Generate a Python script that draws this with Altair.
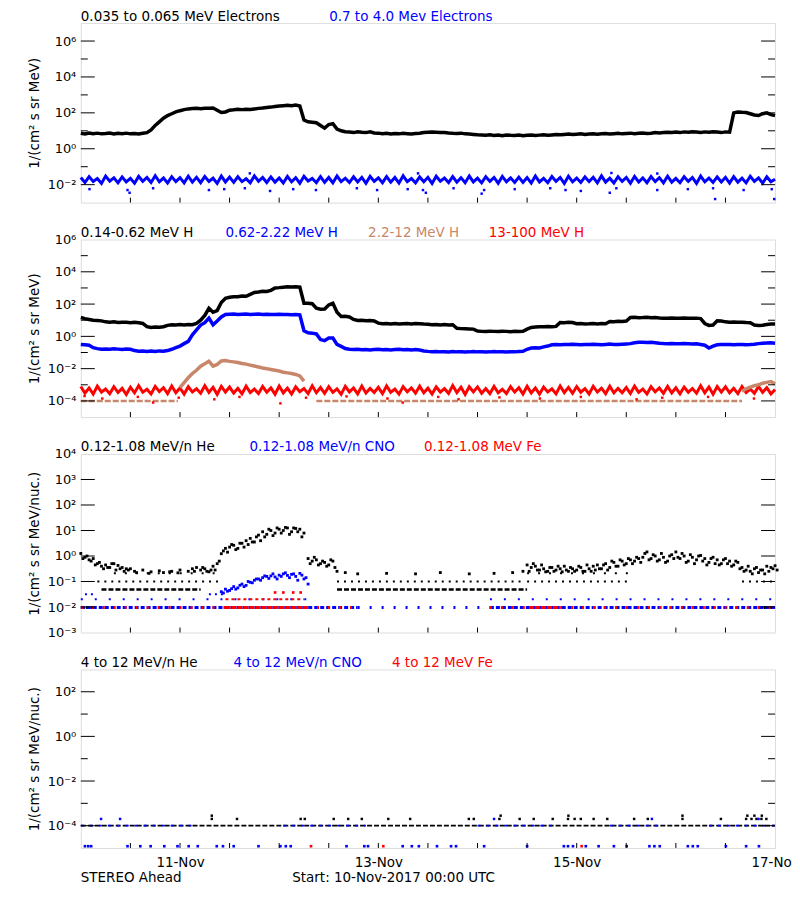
import altair as alt
import pandas as pd

FONT = "DejaVu Sans"
BLACK, BLUE, TAN, RED = "#000000", "#0000ff", "#c8866a", "#ff0000"
N = None
W = 696

# ---------------- time axis (hours since 10-Nov-2017 00:00 UTC) ----------------
HOURS = list(range(169))
X_TICK_HOURS = list(range(12, 168, 12))
X_LABEL_HOURS = [24, 72, 120, 168]
X_LABEL_TEXT = ["11-Nov", "13-Nov", "15-Nov", "17-Nov"]

# ---------------- panel 1: electrons (log10 flux, hourly) ----------------
E_LOW_LOG = [
    0.86, 0.82, 0.88, 0.84, 0.87, 0.83, 0.85, 0.88, 0.82, 0.86, 0.84, 0.87,
    0.83, 0.85, 0.82, 0.86, 0.90, 1.05, 1.30, 1.50, 1.70, 1.85, 1.95, 2.05,
    2.12, 2.18, 2.22, 2.24, 2.25, 2.23, 2.26, 2.25, 2.27, 2.15, 2.02, 2.05,
    2.15, 2.17, 2.20, 2.18, 2.20, 2.19, 2.22, 2.25, 2.27, 2.30, 2.32, 2.35,
    2.38, 2.40, 2.42, 2.40, 2.43, 2.38, 1.60, 1.50, 1.48, 1.45, 1.30, 1.15,
    1.35, 1.40, 1.10, 1.00, 0.95, 0.93, 0.90, 0.95, 0.92, 0.90, 0.94, 0.88,
    0.87, 0.84, 0.86, 0.82, 0.85, 0.83, 0.86, 0.84, 0.82, 0.85, 0.87, 0.90,
    0.92, 0.93, 0.92, 0.90, 0.91, 0.88, 0.86, 0.85, 0.87, 0.83, 0.82, 0.80,
    0.78, 0.77, 0.75, 0.78, 0.74, 0.76, 0.73, 0.77, 0.75, 0.74, 0.76, 0.72,
    0.75, 0.77, 0.74, 0.76, 0.78, 0.75, 0.77, 0.79, 0.78, 0.80, 0.82, 0.79,
    0.81, 0.83, 0.80, 0.82, 0.84, 0.81, 0.83, 0.85, 0.82, 0.84, 0.86, 0.83,
    0.85, 0.87, 0.84, 0.86, 0.88, 0.85, 0.87, 0.90, 0.88, 0.90, 0.92, 0.91,
    0.93, 0.90, 0.94, 0.92, 0.95, 0.93, 0.91, 0.94, 0.92, 0.95, 0.93, 0.90,
    0.94, 0.92, 2.00, 2.05, 2.03, 2.02, 1.95, 1.88, 1.85, 1.95, 2.00, 1.90,
    1.85]
E_HIGH_LOG = [
    -1.60, -1.88, -1.55, -1.82, -1.66, -1.93, -1.52, -1.80, -1.62, -1.90, -1.57, -1.85,
    -1.65, -1.92, -1.54, -1.81, -1.60, -1.88, -1.50, -1.84, -1.63, -1.91, -1.56, -1.83,
    -1.61, -1.90, -1.53, -1.86, -1.59, -1.89, -1.55, -1.82, -1.64, -1.93, -1.52, -1.85,
    -1.58, -1.87, -1.56, -1.83, -1.67, -1.90, -1.51, -1.81, -1.60, -1.88, -1.57, -1.86,
    -1.63, -1.91, -1.54, -1.84, -1.61, -1.92, -1.53, -1.80, -1.65, -1.89, -1.55, -1.87,
    -1.60, -1.90, -1.52, -1.83, -1.64, -1.88, -1.56, -1.85, -1.59, -1.92, -1.54, -1.82,
    -1.62, -1.89, -1.55, -1.86, -1.60, -1.91, -1.51, -1.83, -1.66, -1.90, -1.57, -1.84,
    -1.59, -1.93, -1.53, -1.81, -1.63, -1.88, -1.55, -1.86, -1.61, -1.89, -1.52, -1.85,
    -1.64, -1.90, -1.56, -1.82, -1.60, -1.92, -1.54, -1.84, -1.62, -1.88, -1.58, -1.87,
    -1.61, -1.91, -1.52, -1.85, -1.65, -1.89, -1.55, -1.82, -1.60, -1.93, -1.53, -1.84,
    -1.63, -1.88, -1.57, -1.83, -1.59, -1.90, -1.51, -1.86, -1.64, -1.91, -1.56, -1.82,
    -1.60, -1.92, -1.54, -1.85, -1.62, -1.89, -1.55, -1.83, -1.61, -1.90, -1.53, -1.86,
    -1.65, -1.89, -1.56, -1.82, -1.60, -1.93, -1.52, -1.84, -1.63, -1.88, -1.57, -1.85,
    -1.59, -1.91, -1.55, -1.86, -1.64, -1.90, -1.53, -1.82, -1.62, -1.92, -1.56, -1.84,
    -1.70]
E_HIGH_OUT_HOURS = [2.1, 11.3, 17.5, 31.0, 34.7, 39.7, 45.8, 51.4, 56.9, 66.8, 71.7, 79.1,
                    82.8, 90.2, 97.6, 105.0, 113.6, 117.3, 121.0, 129.6, 139.5, 146.9,
                    153.0, 160.4, 167.2, 11.8, 83.5, 97.0, 128.0, 153.5, 167.8,
                    40.9, 81.6, 128.4, 139.5]
E_HIGH_OUT_LOG = [-2.25, -2.3, -2.2, -2.3, -2.25, -2.2, -2.35, -2.25, -2.3, -2.2, -2.3, -2.25,
                  -2.3, -2.2, -2.3, -2.25, -2.2, -2.3, -2.35, -2.2, -2.3, -2.25,
                  -2.2, -2.3, -2.25, -2.45, -2.45, -2.5, -2.45, -2.8, -2.8,
                  -1.37, -1.37, -1.35, -1.38]

# ---------------- panel 2: protons ----------------
H_LOW_LOG = [
    1.17, 1.10, 1.05, 1.00, 0.98, 0.96, 0.90, 0.88, 0.90, 0.86, 0.88, 0.87,
    0.85, 0.88, 0.84, 0.80, 0.60, 0.55, 0.58, 0.56, 0.60, 0.68, 0.72, 0.70,
    0.73, 0.71, 0.74, 0.72, 0.80, 1.00, 1.30, 1.74, 1.50, 1.60, 2.10, 2.36,
    2.42, 2.46, 2.45, 2.50, 2.48, 2.60, 2.72, 2.75, 2.80, 2.78, 2.85, 3.00,
    3.02, 3.05, 3.07, 3.06, 3.08, 3.05, 2.05, 2.05, 2.02, 1.75, 1.68, 1.70,
    1.95, 2.05, 1.50, 1.23, 1.25, 1.20, 1.05, 0.98, 1.00, 0.97, 0.98, 0.95,
    0.82, 0.78, 0.80, 0.77, 0.79, 0.76, 0.78, 0.80, 0.77, 0.79, 0.78, 0.76,
    0.75, 0.72, 0.74, 0.71, 0.73, 0.70, 0.72, 0.50, 0.48, 0.47, 0.46, 0.45,
    0.33, 0.31, 0.30, 0.32, 0.31, 0.30, 0.32, 0.31, 0.29, 0.31, 0.30, 0.32,
    0.45, 0.55, 0.58, 0.60, 0.59, 0.61, 0.60, 0.62, 0.86, 0.85, 0.87, 0.86,
    0.78, 0.79, 0.77, 0.78, 0.80, 0.77, 0.79, 0.78, 0.92, 0.91, 0.93, 0.92,
    0.95, 1.17, 1.18, 1.16, 1.17, 1.19, 1.15, 1.17, 1.14, 1.13, 1.12, 1.14,
    1.13, 1.12, 1.14, 1.13, 1.12, 1.13, 1.10, 0.80, 0.68, 0.70, 0.96, 0.95,
    0.90, 0.88, 0.89, 0.87, 0.88, 0.86, 0.85, 0.70, 0.68, 0.69, 0.74, 0.76,
    0.76]
H_MID_LOG = [
    -0.50, -0.52, -0.55, -0.70, -0.76, -0.80, -0.78, -0.80, -0.77, -0.79, -0.81, -0.78,
    -0.80, -0.88, -0.92, -0.90, -0.93, -0.91, -0.94, -0.90, -0.92, -0.88, -0.80, -0.70,
    -0.60, -0.45, -0.31, 0.10, 0.40, 0.70, 0.85, 1.13, 0.72, 0.95, 1.20, 1.35,
    1.37, 1.38, 1.36, 1.37, 1.38, 1.36, 1.37, 1.38, 1.36, 1.37, 1.35, 1.36,
    1.37, 1.35, 1.36, 1.34, 1.35, 1.33, 0.35, 0.22, 0.20, 0.15, -0.20, -0.27,
    -0.10, -0.10, -0.50, -0.62, -0.75, -0.80, -0.82, -0.80, -0.83, -0.81, -0.84, -0.82,
    -0.80, -0.83, -0.81, -0.84, -0.82, -0.80, -0.83, -0.81, -0.84, -0.82, -0.85, -0.90,
    -0.93, -0.95, -0.94, -0.96, -0.95, -0.97, -0.94, -0.96, -0.95, -0.97, -0.96, -0.94,
    -0.96, -0.95, -0.97, -0.96, -0.94, -0.96, -0.95, -0.97, -0.95, -0.96, -0.94, -0.93,
    -0.80, -0.72, -0.70, -0.72, -0.65, -0.60, -0.52, -0.50, -0.52, -0.50, -0.51, -0.49,
    -0.50, -0.52, -0.50, -0.51, -0.49, -0.50, -0.52, -0.50, -0.48, -0.50, -0.51, -0.49,
    -0.47, -0.45, -0.40, -0.37, -0.36, -0.38, -0.37, -0.39, -0.42, -0.44, -0.45, -0.44,
    -0.45, -0.46, -0.44, -0.45, -0.47, -0.46, -0.50, -0.55, -0.72, -0.60, -0.52, -0.50,
    -0.51, -0.50, -0.52, -0.51, -0.50, -0.52, -0.51, -0.49, -0.45, -0.42, -0.41, -0.40,
    -0.42]
H_HIGH_EVENT_HOURS = list(range(24, 55))
H_HIGH_EVENT_LOG = [-3.18, -2.87, -2.56, -2.30, -2.10, -1.85, -1.70, -1.54, -1.84, -1.74,
                    -1.52, -1.50, -1.55, -1.58, -1.62, -1.68, -1.72, -1.78, -1.84, -1.90,
                    -1.96, -2.00, -2.05, -2.10, -2.15, -2.22, -2.26, -2.30, -2.36, -2.45,
                    -2.77]
H_HIGH_END_HOURS = list(range(160, 169))
H_HIGH_END_LOG = [-3.40, -3.25, -3.15, -3.05, -3.00, -2.90, -2.85, -2.80, -2.95]
H_HIGH_BG_SEGMENTS = [(0, 23.5), (57, 160)]
H_HIGH_BG_LOG = -4.0
H_VHIGH_LOG = [
    -3.10, -3.52, -3.20, -3.58, -3.08, -3.45, -3.26, -3.55, -3.12, -3.48, -3.22, -3.60,
    -3.15, -3.50, -3.05, -3.46, -3.28, -3.57, -3.10, -3.42, -3.18, -3.55, -3.07, -3.49,
    -3.20, -3.58, -3.12, -3.44, -3.25, -3.52, -3.06, -3.47, -3.16, -3.59, -3.10, -3.45,
    -3.14, -3.51, -3.22, -3.56, -3.09, -3.48, -3.27, -3.54, -3.11, -3.46, -3.19, -3.58,
    -3.08, -3.50, -3.21, -3.57, -3.13, -3.43, -3.24, -3.55, -3.06, -3.49, -3.17, -3.53,
    -3.12, -3.47, -3.25, -3.59, -3.10, -3.44, -3.20, -3.56, -3.08, -3.51, -3.23, -3.48,
    -3.16, -3.55, -3.07, -3.46, -3.26, -3.58, -3.11, -3.43, -3.19, -3.52, -3.09, -3.50,
    -3.21, -3.57, -3.13, -3.45, -3.24, -3.53, -3.05, -3.48, -3.15, -3.60, -3.12, -3.44,
    -3.13, -3.52, -3.23, -3.55, -3.10, -3.49, -3.28, -3.54, -3.12, -3.45, -3.18, -3.57,
    -3.09, -3.51, -3.20, -3.58, -3.14, -3.44, -3.25, -3.56, -3.07, -3.48, -3.16, -3.52,
    -3.11, -3.46, -3.24, -3.57, -3.09, -3.45, -3.21, -3.55, -3.09, -3.50, -3.22, -3.49,
    -3.17, -3.54, -3.08, -3.47, -3.27, -3.57, -3.12, -3.44, -3.20, -3.53, -3.10, -3.51,
    -3.19, -3.56, -3.14, -3.46, -3.23, -3.52, -3.06, -3.49, -3.14, -3.58, -3.11, -3.45,
    -3.12, -3.50, -3.22, -3.55, -3.11, -3.48, -3.26, -3.53, -3.10, -3.47, -3.18, -3.56,
    -3.30]
H_VHIGH_LOW_HOURS = [0.9, 5.2, 13.8, 17.5, 23.7, 32.3, 38.4, 48.3, 54.5, 64.3, 74.2, 77.9,
                     86.5, 91.4, 101.3, 111.1, 121.0, 134.5, 140.7, 151.8, 162.9]
H_VHIGH_LOW_LOG = [-3.7, -3.85, -3.75, -4.1, -3.8, -3.9, -3.75, -4.15, -3.8, -3.72, -3.85, -4.1,
                   -3.75, -3.9, -3.78, -3.85, -3.75, -3.9, -3.8, -3.75, -3.85]

# ---------------- panel 3: 0.12-1.08 MeV/n heavy ions ----------------
HE_A_LOG = [
    0.10, -0.05, -0.15, -0.10, -0.30, -0.40, -0.35, -0.45, -0.30, -0.37, -0.45, -0.50,
    -0.50, -0.60, N, -0.55, N, -0.62, N, -0.58, -0.65, N, -0.60, N,
    -0.55, N, -0.60, -0.50, -0.45, -0.55, -0.50, -0.62, -0.40, -0.30, 0.09, 0.30,
    0.35, 0.42, 0.30, 0.50, 0.60, 0.69, 0.55, 0.82, 0.95, 0.85, 1.00, 0.90,
    1.05, 1.00, 1.10, 0.95, 1.08, 1.05, 0.90, -0.10, -0.20, -0.15, -0.30, -0.25,
    -0.35, -0.20, -0.60, N, -0.65, N, N, -0.70, N, N, N, N,
    N, N, -0.68, N, N, N, N, N, N, -0.70, N, N,
    N, N, N, -0.65, N, N, N, N, N, N, -0.70, N,
    N, N, N, N, -0.68, N, N, N, N, N, N, -0.60,
    -0.35, -0.45, -0.40, -0.55, -0.50, -0.60, -0.45, -0.55, -0.50, -0.40, -0.60, -0.50,
    -0.55, -0.45, -0.60, -0.50, -0.40, -0.35, -0.50, -0.30, -0.45, -0.25, -0.40, -0.20,
    -0.30, -0.15, -0.20, -0.10, -0.05, 0.16, -0.10, 0.00, -0.15, -0.05, -0.20, 0.05,
    0.16, -0.10, 0.00, -0.20, -0.05, -0.15, 0.02, -0.10, -0.25, -0.05, -0.15, -0.30,
    -0.10, -0.20, -0.35, -0.25, -0.45, -0.55, -0.60, -0.50, -0.65, -0.55, -0.40, -0.45,
    -0.38]
HE_B_LOG = [
    -0.10, 0.00, -0.20, -0.35, -0.25, -0.50, -0.45, -0.30, -0.55, -0.50, -0.60, -0.55,
    N, -0.65, N, N, -0.68, N, N, N, N, -0.62, N, -0.66,
    N, N, N, -0.60, N, -0.45, -0.60, -0.55, -0.55, -0.20, 0.20, 0.15,
    0.45, 0.25, 0.50, 0.35, 0.45, 0.55, 0.75, 0.60, 0.75, 1.05, 0.80, 1.10,
    0.90, 1.12, 0.85, 1.10, 0.95, 0.75, N, -0.30, -0.05, -0.35, -0.20, -0.40,
    -0.15, -0.45, N, N, N, N, N, N, N, N, N, N,
    N, N, N, N, N, N, N, N, N, N, N, N,
    N, N, N, N, N, N, N, N, N, N, N, N,
    N, N, N, N, N, N, N, N, -0.65, N, N, N,
    -0.60, -0.30, -0.55, -0.35, -0.62, -0.45, -0.60, -0.40, -0.62, -0.55, -0.45, -0.60,
    -0.40, -0.60, -0.35, -0.60, -0.55, -0.50, -0.35, -0.55, -0.20, -0.40, -0.15, -0.35,
    -0.10, -0.30, -0.05, -0.25, 0.10, -0.15, 0.05, -0.20, 0.10, -0.25, 0.00, -0.10,
    -0.05, 0.10, -0.25, 0.05, -0.30, 0.00, -0.20, -0.35, -0.10, -0.30, -0.35, -0.15,
    -0.30, -0.40, -0.20, -0.50, -0.60, -0.40, -0.70, -0.45, -0.55, -0.70, -0.60, -0.50,
    -0.55]
HE_ROW_005_SEGMENTS = [(5, 29), (62, 108)]
HE_ROW_01_SEGMENTS = [(4, 34), (62, 107), (108, 133), (160, 168)]
HE_ROW_02_SEGMENTS = [(8, 34), (108, 133)]
HE_ROW_001_SEGMENTS = [(0, 3), (164, 168)]
CNO_EVENT_HOURS = list(range(34, 56))
CNO_A_LOG = [-1.40, -1.30, -1.35, -1.20, -1.25, -1.10, -1.15, -1.03, -0.95, -0.90, -0.85,
             -0.80, -0.78, -0.82, -0.75, -0.70, -0.76, -0.72, -0.80, -0.68, -0.90, -1.10]
CNO_B_LOG = [-1.45, -1.38, -1.28, -1.30, -1.15, -1.20, -1.00, -1.05, -0.90, -0.95, -0.78,
             -0.88, -0.70, -0.90, -0.80, -0.66, -0.85, -0.70, -0.95, -0.75, -0.85, N]
CNO_ROW_001_DENSE = [(0, 67), (99, 168)]
CNO_ROW_001_SPARSE = [(67, 99)]
CNO_ROW_002_SEGMENTS = [(0, 56), (99, 168)]
CNO_ROW_003_SEGMENTS = [(1, 3), (31, 35)]
FE_ROW_001_DENSE = [(35, 54.5), (108.5, 116)]
FE_ROW_001_SPARSE = [(0, 35), (54.5, 67), (99, 108.5), (116, 168)]
FE_ROW_002_SEGMENTS = [(35, 54)]
FE_HIGH_HOURS = [47.0, 49.0, 51.4, 53.2]
FE_HIGH_LOG = [-1.43, -1.43, -1.43, -1.43]
ROW_001, ROW_002, ROW_003, ROW_005, ROW_01, ROW_02 = 0.0095, 0.02, 0.032, 0.049, 0.1, 0.21

# ---------------- panel 4: 4-12 MeV/n heavy ions ----------------
HE4_ROW_SEGMENTS = [(0, 168)]
CNO4_ROW_SEGMENTS = [(0, 27), (49, 69), (96, 114), (128, 140), (152, 168)]
HE4_ROW_LEVEL = 1e-4
HE4_UP_HOURS = [31.7, 37.8, 53.2, 54.2, 61.2, 64.7, 68.0, 74.4, 79.7, 93.9, 95.1, 101.3,
                106.2, 109.6, 114.2, 117.9, 119.5, 121.0, 124.1, 127.4, 133.9, 137.2,
                145.6, 154.9, 161.0, 162.3, 163.5, 164.7, 165.9]
HE4_UP2_HOURS = [31.7, 101.6, 118.0, 145.6, 161.3, 163.0, 164.8]
CNO4_UP_HOURS = [4.9, 9.5, 100.0, 138.2, 164.0]
CNO4_LOW_HOURS = [1.0, 1.8, 2.5, 11.3, 14.4, 16.9, 20.2, 23.4, 26.1, 28.3, 32.9, 34.4, 37.0,
                  43.0, 48.3, 49.6, 50.8, 64.3, 68.6, 69.5, 77.9, 80.1, 81.8, 86.2, 89.6,
                  90.8, 97.6, 108.0, 116.9, 117.9, 119.1, 122.2, 125.3, 129.0, 132.1,
                  137.6, 138.8, 140.1, 146.9, 148.1, 149.3, 156.1, 161.0, 164.1]
FE4_LOW_HOURS = [55.7, 73.2, 121.2]
HE4_UP_LEVEL, HE4_UP2_LEVEL, LOW4_LEVEL = 2.0e-4, 2.8e-4, 1.2e-5

for arr in (E_LOW_LOG, E_HIGH_LOG, H_LOW_LOG, H_MID_LOG, H_VHIGH_LOG, HE_A_LOG, HE_B_LOG):
    assert len(arr) == 169, len(arr)

SUP = {"-": "\u207b", "0": "\u2070", "1": "\u00b9", "2": "\u00b2", "3": "\u00b3",
       "4": "\u2074", "5": "\u2075", "6": "\u2076", "7": "\u2077", "8": "\u2078", "9": "\u2079"}


def sup_label(e):
    return "10" + "".join(SUP[c] for c in str(e))


def pts(hours, logs):
    rows = [(h, 10.0 ** v) for h, v in zip(hours, logs) if v is not None]
    return pd.DataFrame(rows, columns=["t", "v"])


def pts_level(hours, level):
    return pd.DataFrame({"t": hours, "v": [level] * len(hours)})


def segs(seglist, level):
    return pd.DataFrame([{"t": a, "t2": b, "v": level} for a, b in seglist])


XSCALE = alt.Scale(domain=[0, 168], nice=False, zero=False)
XLABEL_EXPR = "[" + ",".join("'%s'" % s for s in X_LABEL_TEXT) + "][indexof([" + \
    ",".join(str(h) for h in X_LABEL_HOURS) + "], datum.value)]"


def make_panel(height, ymin, ymax, label_exps, major_exps, minor_exps, ytitle, titles,
               layer_specs, bottom=False):
    labels_js = "[" + ",".join("'%s'" % sup_label(e) for e in range(ymin, ymax + 1)) + "]"
    yaxis = alt.Axis(values=[10.0 ** e for e in label_exps],
                     labelExpr=f"{labels_js}[round(log(datum.value)/LN10)-({ymin})]",
                     ticks=False, domain=False, grid=False, title=ytitle,
                     labelFont=FONT, labelFontSize=13, labelColor="black", labelPadding=5,
                     labelFlush=False, labelOverlap=False,
                     titleFont=FONT, titleFontSize=13.5, titleFontWeight="normal",
                     titleColor="black", minExtent=30, maxExtent=30, titlePadding=9)
    yscale = alt.Scale(type="log", domain=[10.0 ** ymin, 10.0 ** ymax], nice=False)
    if bottom:
        xaxis = alt.Axis(values=X_LABEL_HOURS, labelExpr=XLABEL_EXPR, ticks=False,
                         domain=False, grid=False, title=None, labelFont=FONT,
                         labelFontSize=13.5, labelColor="black", labelPadding=8,
                         labelFlush=False, labelOverlap=False, labelBound=False)
    else:
        xaxis = None

    def X(f="t"):
        return alt.X(f + ":Q", scale=XSCALE, axis=xaxis)

    def Y(f="v"):
        return alt.Y(f + ":Q", scale=yscale, axis=yaxis)

    layers = []
    for spec in layer_specs:
        kind, df, style = spec
        base = alt.Chart(df)
        if kind == "line":
            layers.append(base.mark_line(color=style["color"], strokeWidth=style["w"])
                          .encode(x=X(), y=Y()))
        elif kind == "pts":
            layers.append(base.mark_square(color=style["color"], size=style.get("size", 7),
                                           opacity=1)
                          .encode(x=X(), y=Y()))
        elif kind == "seg":
            layers.append(base.mark_rule(color=style["color"], strokeWidth=style["w"],
                                         strokeDash=style["dash"])
                          .encode(x=X(), x2=alt.X2("t2:Q"), y=Y()))
    # inward ticks, left and right
    for exps, ln in ((major_exps, 14), (minor_exps, 7)):
        if not exps:
            continue
        tdf = pd.DataFrame({"v": [10.0 ** e for e in exps]})
        layers.append(alt.Chart(tdf).mark_rule(color="black", strokeWidth=1)
                      .encode(y=Y(), x=alt.value(0), x2=alt.value(ln)))
        layers.append(alt.Chart(tdf).mark_rule(color="black", strokeWidth=1)
                      .encode(y=Y(), x=alt.value(W), x2=alt.value(W - ln)))
    xdf = pd.DataFrame({"t": X_TICK_HOURS})
    layers.append(alt.Chart(xdf).mark_rule(color="black", strokeWidth=1)
                  .encode(x=X(), y=alt.value(height), y2=alt.value(height - 5)))
    # coloured panel titles
    for text, color, px in titles:
        layers.append(alt.Chart(pd.DataFrame({"s": [text]}))
                      .mark_text(align="left", baseline="alphabetic", font=FONT,
                                 fontSize=13.5, color=color)
                      .encode(text="s:N", x=alt.value(px - 80), y=alt.value(-2.5)))
    if bottom:
        for text, px in (("STEREO Ahead", 80), ("Start: 10-Nov-2017 00:00 UTC", 292)):
            layers.append(alt.Chart(pd.DataFrame({"s": [text]}))
                          .mark_text(align="left", baseline="middle", font=FONT,
                                     fontSize=13.5, color="black")
                          .encode(text="s:N", x=alt.value(px - 80), y=alt.value(height + 30)))
    return alt.layer(*layers).properties(width=W, height=height)


TITLE_FLUX = "1/(cm\u00b2 s sr MeV)"
TITLE_NUC = "1/(cm\u00b2 s sr MeV/nuc.)"

p1 = make_panel(
    180, -3, 7, [-2, 0, 2, 4, 6], [-2, 0, 2, 4, 6], [-1, 1, 3, 5], TITLE_FLUX,
    [("0.035 to 0.065 MeV Electrons", BLACK, 80), ("0.7 to 4.0 Mev Electrons", BLUE, 329)],
    [
        ("line", pts(HOURS, E_HIGH_LOG), {"color": BLUE, "w": 3}),
        ("pts", pts(E_HIGH_OUT_HOURS, E_HIGH_OUT_LOG), {"color": BLUE, "size": 6}),
        ("line", pts(HOURS, E_LOW_LOG), {"color": BLACK, "w": 3.5}),
    ])

p2 = make_panel(
    178, -5, 6, [-4, -2, 0, 2, 4, 6], [-4, -2, 0, 2, 4], [-3, -1, 1, 3, 5], TITLE_FLUX,
    [("0.14-0.62 MeV H", BLACK, 80), ("0.62-2.22 MeV H", BLUE, 225),
     ("2.2-12 MeV H", TAN, 368), ("13-100 MeV H", RED, 489)],
    [
        ("seg", segs(H_HIGH_BG_SEGMENTS, 10.0 ** H_HIGH_BG_LOG), {"color": TAN, "w": 2.5, "dash": [6, 2]}),
        ("line", pts(HOURS, H_VHIGH_LOG), {"color": RED, "w": 3}),
        ("pts", pts(H_VHIGH_LOW_HOURS, H_VHIGH_LOW_LOG), {"color": RED, "size": 6}),
        ("line", pts(H_HIGH_EVENT_HOURS, H_HIGH_EVENT_LOG), {"color": TAN, "w": 3.5}),
        ("line", pts(H_HIGH_END_HOURS, H_HIGH_END_LOG), {"color": TAN, "w": 3.5}),
        ("line", pts(HOURS, H_MID_LOG), {"color": BLUE, "w": 3.5}),
        ("line", pts(HOURS, H_LOW_LOG), {"color": BLACK, "w": 3.5}),
    ])

p3 = make_panel(
    179, -3, 4, list(range(-3, 5)), list(range(-2, 4)), [], TITLE_NUC,
    [("0.12-1.08 MeV/n He", BLACK, 80), ("0.12-1.08 MeV/n CNO", BLUE, 249),
     ("0.12-1.08 MeV Fe", RED, 424)],
    [
        ("seg", segs(HE_ROW_005_SEGMENTS, ROW_005), {"color": BLACK, "w": 2.5, "dash": [5, 2]}),
        ("seg", segs(HE_ROW_01_SEGMENTS, ROW_01), {"color": BLACK, "w": 2, "dash": [2, 5]}),
        ("seg", segs(HE_ROW_02_SEGMENTS, ROW_02), {"color": BLACK, "w": 2, "dash": [2, 9]}),
        ("seg", segs(HE_ROW_001_SEGMENTS, ROW_001), {"color": BLACK, "w": 3, "dash": [4, 1]}),
        ("seg", segs(CNO_ROW_001_DENSE, ROW_001), {"color": BLUE, "w": 3, "dash": [4, 2]}),
        ("seg", segs(CNO_ROW_001_SPARSE, ROW_001), {"color": BLUE, "w": 3, "dash": [2, 10]}),
        ("seg", segs(CNO_ROW_002_SEGMENTS, ROW_002), {"color": BLUE, "w": 2, "dash": [2, 12]}),
        ("seg", segs(CNO_ROW_003_SEGMENTS, ROW_003), {"color": BLUE, "w": 2, "dash": [2, 4]}),
        ("seg", segs(FE_ROW_001_DENSE, ROW_001), {"color": RED, "w": 3, "dash": [5, 1]}),
        ("seg", segs(FE_ROW_001_SPARSE, ROW_001), {"color": RED, "w": 3, "dash": [2, 9]}),
        ("seg", segs(FE_ROW_002_SEGMENTS, ROW_002), {"color": RED, "w": 2, "dash": [3, 3]}),
        ("pts", pts(FE_HIGH_HOURS, FE_HIGH_LOG), {"color": RED, "size": 7}),
        ("pts", pts(CNO_EVENT_HOURS, CNO_A_LOG), {"color": BLUE, "size": 8}),
        ("pts", pts([h + 0.5 for h in CNO_EVENT_HOURS], CNO_B_LOG), {"color": BLUE, "size": 8}),
        ("pts", pts(HOURS, HE_A_LOG), {"color": BLACK, "size": 8}),
        ("pts", pts([h + 0.5 for h in HOURS], HE_B_LOG), {"color": BLACK, "size": 8}),
    ])

p4 = make_panel(
    179, -5, 3, [-4, -2, 0, 2], [-4, -2, 0, 2], [-3, -1, 1], TITLE_NUC,
    [("4 to 12 MeV/n He", BLACK, 80), ("4 to 12 MeV/n CNO", BLUE, 233),
     ("4 to 12 MeV Fe", RED, 392)],
    [
        ("seg", segs(HE4_ROW_SEGMENTS, HE4_ROW_LEVEL), {"color": BLACK, "w": 1.6, "dash": [5, 2]}),
        ("seg", segs(CNO4_ROW_SEGMENTS, HE4_ROW_LEVEL), {"color": BLUE, "w": 1.6, "dash": [3, 6]}),
        ("pts", pts_level(HE4_UP_HOURS, HE4_UP_LEVEL), {"color": BLACK, "size": 6}),
        ("pts", pts_level(HE4_UP2_HOURS, HE4_UP2_LEVEL), {"color": BLACK, "size": 6}),
        ("pts", pts_level(CNO4_UP_HOURS, HE4_UP_LEVEL), {"color": BLUE, "size": 6}),
        ("pts", pts_level(CNO4_LOW_HOURS, LOW4_LEVEL), {"color": BLUE, "size": 7}),
        ("pts", pts_level(FE4_LOW_HOURS, LOW4_LEVEL), {"color": RED, "size": 7}),
    ], bottom=True)

chart = alt.vconcat(p1, p2, p3, p4, spacing=37, bounds="flush").properties(
    padding={"left": 19, "top": 0, "right": -8, "bottom": 0}
).configure_view(stroke="black", strokeWidth=1).configure(background="white")

chart.save("out.html", embed_options={"renderer": "svg", "actions": False})
